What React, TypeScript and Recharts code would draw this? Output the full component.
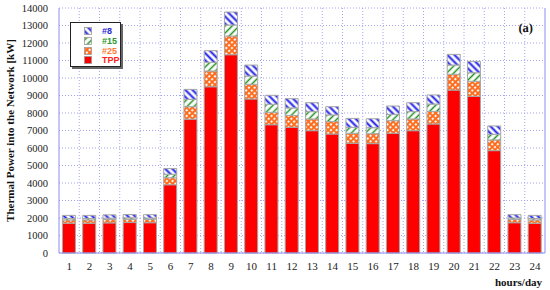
import React from 'react';
import { BarChart, Bar, XAxis, YAxis, CartesianGrid, Legend } from 'recharts';

const hours = ['1', '2', '3', '4', '5', '6', '7', '8', '9', '10', '11', '12', '13', '14', '15', '16', '17', '18', '19', '20', '21', '22', '23', '24'];
const tppValues = [1700, 1700, 1720, 1740, 1730, 3900, 7650, 9500, 11330, 8800, 7330, 7180, 6990, 6800, 6270, 6250, 6840, 6990, 7370, 9310, 8950, 5850, 1730, 1700];
const unit25Values = [190, 190, 190, 190, 190, 400, 710, 900, 1070, 840, 710, 680, 670, 710, 570, 570, 720, 670, 720, 900, 860, 610, 190, 190];
const unit15Values = [80, 80, 80, 80, 80, 200, 420, 500, 630, 470, 460, 430, 420, 380, 340, 340, 360, 420, 420, 530, 490, 320, 80, 80];
const unit8Values = [180, 180, 190, 190, 190, 330, 570, 660, 740, 630, 510, 530, 510, 470, 510, 510, 480, 510, 520, 610, 650, 480, 190, 180];
const yTicks = [0, 1000, 2000, 3000, 4000, 5000, 6000, 7000, 8000, 9000, 10000, 11000, 12000, 13000, 14000];
const yMinorTicks = [
  200, 400, 600, 800, 1200, 1400, 1600, 1800, 2200, 2400, 2600, 2800, 3200, 3400, 3600, 3800,
  4200, 4400, 4600, 4800, 5200, 5400, 5600, 5800, 6200, 6400, 6600, 6800, 7200, 7400, 7600, 7800,
  8200, 8400, 8600, 8800, 9200, 9400, 9600, 9800, 10200, 10400, 10600, 10800, 11200, 11400, 11600, 11800,
  12200, 12400, 12600, 12800, 13200, 13400, 13600, 13800,
];

const data = hours.map((h, i) => ({
  hour: h,
  tpp: tppValues[i],
  u25: unit25Values[i],
  u15: unit15Values[i],
  u8: unit8Values[i],
}));

const series = [
  { key: 'tpp', name: 'TPP', fill: '#ff0000', text: '#ff2020' },
  { key: 'u25', name: '#25', fill: 'url(#pat25)', text: '#ff7a35' },
  { key: 'u15', name: '#15', fill: 'url(#pat15)', text: '#2a9a2a' },
  { key: 'u8', name: '#8', fill: 'url(#pat8)', text: '#2b2bd6' },
];

const AXIS_COLOR = '#8c8cf0';
const GRID_COLOR = '#a4a4f2';
const SERIF = '"Liberation Serif", "Times New Roman", serif';

const EmptyTick = () => <g />;

const renderLegend = () => {
  const items = [...series].reverse();
  return (
    <div
      style={{
        width: 51,
        height: 45,
        background: '#fff',
        border: '1px solid #222',
        boxShadow: '2px 2px 0 #666',
        position: 'relative',
        boxSizing: 'border-box',
      }}
    >
      {items.map((s, i) => (
        <div key={s.key} style={{ position: 'absolute', left: 13, top: 4 + i * 9.8, height: 8, display: 'flex', alignItems: 'center' }}>
          <svg width={8} height={8} style={{ display: 'block' }}>
            <rect x={0.5} y={0.5} width={7} height={7} fill={s.fill} stroke="#999" strokeWidth={0.8} />
          </svg>
          <span
            style={{
              marginLeft: 10,
              fontFamily: '"Liberation Sans", Arial, sans-serif',
              fontWeight: 'bold',
              fontSize: 9,
              lineHeight: '8px',
              color: s.text,
            }}
          >
            {s.name}
          </span>
        </div>
      ))}
    </div>
  );
};

export default function App() {
  return (
    <div style={{ position: 'absolute', left: 0, top: 0, width: 550, height: 290, background: '#fff' }}>
      <BarChart
        width={550}
        height={290}
        data={data}
        margin={{ top: 8, right: 5, left: 0, bottom: 7 }}
        barCategoryGap="17%"
      >
        <defs>
          <pattern id="pat8" patternUnits="userSpaceOnUse" width="5" height="5" patternTransform="rotate(-45)">
            <rect width="5" height="5" fill="#ffffff" />
            <line x1="2.5" y1="0" x2="2.5" y2="5" stroke="#1c1ce8" strokeWidth="2" />
          </pattern>
          <pattern id="pat15" patternUnits="userSpaceOnUse" width="5" height="5" patternTransform="rotate(45)">
            <rect width="5" height="5" fill="#ffffff" />
            <line x1="2.5" y1="0" x2="2.5" y2="5" stroke="#1f8f1f" strokeWidth="1.5" />
          </pattern>
          <pattern id="pat25" patternUnits="userSpaceOnUse" width="4" height="4" patternTransform="rotate(45)">
            <rect width="4" height="4" fill="#ff6a1a" />
            <circle cx="2" cy="2" r="1.15" fill="#ffffff" />
          </pattern>
        </defs>
        <CartesianGrid
          xAxisId="main"
          yAxisId="left"
          stroke={GRID_COLOR}
          strokeDasharray="1 2"
          verticalCoordinatesGenerator={({ offset }: any) =>
            hours.slice(1).map((_, i) => offset.left + ((i + 1) * offset.width) / hours.length)
          }
        />
        <XAxis
          xAxisId="main"
          dataKey="hour"
          height={30}
          tickLine={false}
          tickSize={0}
          tickMargin={9}
          axisLine={{ stroke: AXIS_COLOR }}
          tick={{ fill: '#222', fontSize: 11, fontFamily: SERIF }}
          interval={0}
        />
        <XAxis xAxisId="top" dataKey="hour" orientation="top" height={0} tick={false} tickLine={false} axisLine={{ stroke: AXIS_COLOR }} />
        <YAxis
          yAxisId="left"
          width={59}
          domain={[0, 14000]}
          ticks={yTicks}
          interval={0}
          tickLine={false}
          tickSize={4}
          tickMargin={7}
          axisLine={{ stroke: AXIS_COLOR }}
          tick={{ fill: '#222', fontSize: 10.5, fontFamily: SERIF }}
        />
        <YAxis yAxisId="leftMajor" mirror domain={[0, 14000]} ticks={yTicks} interval={0} tickSize={5} tick={<EmptyTick />} axisLine={false} tickLine={{ stroke: AXIS_COLOR }} />
        <YAxis yAxisId="leftMinor" mirror domain={[0, 14000]} ticks={yMinorTicks} interval={0} tickSize={3} tick={<EmptyTick />} axisLine={false} tickLine={{ stroke: AXIS_COLOR }} />
        <YAxis yAxisId="right" orientation="right" mirror domain={[0, 14000]} ticks={yTicks} interval={0} tickSize={5} tick={<EmptyTick />} axisLine={{ stroke: AXIS_COLOR }} tickLine={{ stroke: AXIS_COLOR }} />
        <YAxis yAxisId="rightMinor" orientation="right" mirror domain={[0, 14000]} ticks={yMinorTicks} interval={0} tickSize={3} tick={<EmptyTick />} axisLine={false} tickLine={{ stroke: AXIS_COLOR }} />
        <Legend
          content={renderLegend}
          layout="vertical"
          align="center"
          verticalAlign="middle"
          wrapperStyle={{ left: 70, top: 22, width: 'auto', height: 'auto' }}
        />
        {series.map((s) => (
          <Bar
            key={s.key}
            xAxisId="main"
            yAxisId="left"
            dataKey={s.key}
            name={s.name}
            stackId="power"
            fill={s.fill}
            stroke="#a6a6a6"
            strokeWidth={1}
            isAnimationActive={false}
          />
        ))}
      </BarChart>
      <svg width={550} height={290} style={{ position: 'absolute', left: 0, top: 0, pointerEvents: 'none' }}>
        <text
          transform="translate(13.5,130.5) rotate(-90)"
          textAnchor="middle"
          fontFamily={SERIF}
          fontWeight="bold"
          fontSize={11}
          fill="#111"
        >
          Thermal Power into the Network [kW]
        </text>
        <text x={533} y={32} textAnchor="end" fontFamily={SERIF} fontWeight="bold" fontSize={12.5} fill="#111">
          (a)
        </text>
        <text x={542} y={285.5} textAnchor="end" fontFamily={SERIF} fontWeight="bold" fontSize={11} fill="#111">
          hours/day
        </text>
      </svg>
    </div>
  );
}
